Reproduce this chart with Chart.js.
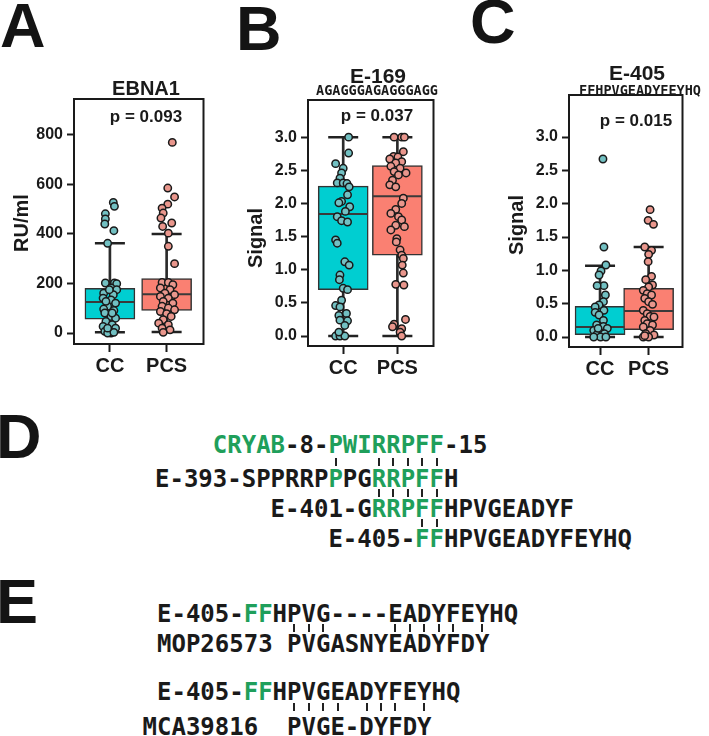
<!DOCTYPE html>
<html><head><meta charset="utf-8">
<script src="https://cdn.jsdelivr.net/npm/chart.js@4.4.1/dist/chart.umd.min.js"></script>
<style>
html,body{margin:0;padding:0;background:#fff;}
#root{position:relative;width:709px;height:736px;overflow:hidden;background:#fff;}
canvas{position:absolute;}
.letter{position:absolute;font-family:"Liberation Sans",Arial,sans-serif;font-weight:bold;font-size:63px;line-height:63px;color:#141414;}
.seq{position:absolute;font-family:"DejaVu Sans Mono",monospace;font-weight:bold;font-size:24px;line-height:24px;white-space:pre;color:#1a1a1a;}
.g{color:#1f9f5b;}
.tk{position:absolute;width:2px;height:8px;background:#222;}
</style></head><body><div id="root">
<canvas id="chartA" width="230" height="380" style="left:0px;top:0px"></canvas>
<canvas id="chartB" width="230" height="380" style="left:230px;top:0px"></canvas>
<canvas id="chartC" width="249" height="380" style="left:460px;top:0px"></canvas>
</div>
<script>
// ---------- data ----------
const groups = ['CC', 'PCS'];
const ebnaTicks = [0, 200, 400, 600, 800];
const ebnaTickLabels = ['0', '200', '400', '600', '800'];
const signalTicks = [0, 0.5, 1, 1.5, 2, 2.5, 3];
const signalTickLabels = ['0.0', '0.5', '1.0', '1.5', '2.0', '2.5', '3.0'];

// box statistics: [lower whisker, Q1, median, Q3, upper whisker]
const ebnaBoxCC  = [3, 56, 125, 180, 362];
const ebnaBoxPCS = [4, 91, 157, 220, 400];
const e169BoxCC  = [0, 0.70, 1.84, 2.26, 3.0];
const e169BoxPCS = [0, 1.22, 2.11, 2.57, 3.0];
const e405BoxCC  = [0, 0.035, 0.15, 0.46, 1.07];
const e405BoxPCS = [0, 0.11, 0.39, 0.73, 1.35];

// individual samples and their horizontal jitter (category units)
const ebnaCC = [527,511,481,460,440,413,362,202,202,199,182,175,161,155,141,134,121,108,97,91,81,67,60,47,34,27,20,7,0,0,3,175,128,81,20];
const ebnaCCJit = [.06,.08,-.08,-.08,-.09,.07,-.04,-.08,.08,.12,.02,.12,-.11,.06,-.12,.02,.10,-.04,-.11,.07,-.09,.02,.10,-.07,.04,-.12,.10,-.09,.02,-.04,.07,-.01,-.07,.04,-.04];
const ebnaPCS = [769,585,549,520,504,484,464,444,430,403,350,280,204,204,195,182,175,161,155,148,141,128,121,108,101,94,87,78,67,54,40,34,20,13,3];
const ebnaPCSJit = [.10,.02,.14,.02,-.08,-.06,-.10,.09,-.07,.03,.03,.14,-.08,.03,.11,-.11,.06,-.03,.14,-.11,.03,-.06,.11,-.08,.03,.14,-.11,0,.08,-.06,-.14,.03,-.08,.06,-.06];

const e169CC = [3.00,2.76,2.60,2.53,2.46,2.38,2.31,2.31,2.30,2.25,2.13,2.03,2.01,1.95,1.88,1.80,1.74,1.72,1.45,1.40,1.12,1.07,0.92,0.85,0.72,0.70,0.54,0.46,0.44,0.34,0.31,0.24,0.23,0.16,0,0,0,0.06];
const e169CCJit = [.10,.10,-.14,0,-.03,-.06,-.11,0,.07,.11,.08,-.03,-.08,.12,.04,-.11,-.03,.08,-.14,-.11,.03,.11,-.06,-.07,0,.08,-.03,-.14,-.06,.06,-.08,-.06,.08,.03,-.14,-.06,.03,-.08];
const e169PCS = [3.0,3.0,3.0,2.78,2.71,2.70,2.67,2.63,2.61,2.56,2.53,2.48,2.43,2.46,2.35,2.28,2.25,2.08,2.00,1.91,1.85,1.80,1.75,1.67,1.65,1.60,1.47,1.42,1.30,1.22,1.17,1.07,0.95,0.78,0.77,0.25,0.18,0.14,0.11,0.06,0];
const e169PCSJit = [-.06,.08,.13,.11,-.07,.01,-.14,.08,-.03,-.12,.05,-.06,.02,.16,-.09,-.14,-.03,.11,.08,-.03,-.12,.02,.08,-.03,.13,-.12,-.01,-.02,.05,.08,.11,.09,.11,-.03,.12,.15,-.06,-.09,.08,.05,.08];

const e405CC = [2.67,1.35,1.08,0.99,0.93,0.77,0.77,0.63,0.53,0.48,0.45,0.40,0.37,0.33,0.25,0.18,0.16,0.13,0.10,0.08,0.05,0.03,0,0,0,0.13];
const e405CCJit = [.06,.08,.12,.02,-.02,.08,-.06,.11,.07,-.02,-.10,.08,-.10,-.02,.07,-.07,.07,.15,-.13,-.02,.09,-.07,.01,-.13,.12,-.04];
const e405PCS = [1.91,1.75,1.69,1.35,1.30,1.24,1.13,0.91,0.86,0.78,0.75,0.70,0.65,0.63,0.58,0.53,0.49,0.40,0.35,0.31,0.30,0.25,0.20,0.18,0.15,0.10,0.05,0.03,0,0,0.02];
const e405PCSJit = [.03,-.01,.10,-.08,.06,0,-.01,.06,-.06,.08,0,-.11,-.03,.06,-.08,0,.08,-.11,-.03,.03,.11,-.08,-.03,.08,-.11,.03,-.06,.11,0,-.11,-.08];

// panel texts
const titleA = 'EBNA1', pA = 'p = 0.093', yTitleA = 'RU/ml';
const titleB = 'E-169', seqB = 'AGAGGGAGAGGGAGG', pB = 'p = 0.037', yTitleB = 'Signal';
const titleC = 'E-405', seqC = 'FFHPVGEADYFEYHQ', pC = 'p = 0.015', yTitleC = 'Signal';

// ---------- styles ----------
const SANS = '"Liberation Sans", Arial, sans-serif';
const MONO = '"DejaVu Sans Mono", monospace';
const INK = '#1a1a1a';
const boxFill = ['#00CED1', '#FA8072'];
const dotFill = ['#72C0C2', '#E9968C'];

const decor = {
  id: 'decor',
  afterDraw(chart, args, opts) {
    const {ctx, chartArea: a} = chart;
    ctx.save();
    ctx.strokeStyle = INK; ctx.lineWidth = 2;
    ctx.strokeRect(a.left, a.top, a.right - a.left, a.bottom - a.top);
    ctx.fillStyle = INK; ctx.textAlign = 'center'; ctx.textBaseline = 'alphabetic';
    for (const t of opts.texts) { ctx.font = t.font; ctx.fillText(t.text, t.x, t.y); }
    const yt = opts.yTitle;
    ctx.translate(yt.x, yt.y); ctx.rotate(-Math.PI / 2);
    ctx.textBaseline = 'middle'; ctx.font = `bold 20px ${SANS}`;
    ctx.fillText(yt.text, 0, 0);
    ctx.restore();
  }
};

function makeChart(id, cfg) {
  const stats = cfg.stats, pts = cfg.points, jit = cfg.jitter;
  const datasets = [];
  datasets.push({ type: 'bar', data: stats.map((s, i) => ({x: i + 1, y: [s[0], s[4]]})),
    backgroundColor: '#2b2b2b', borderWidth: 0, barThickness: 2, grouped: false, order: 5 });
  datasets.push({ type: 'bar', data: stats.map((s, i) => ({x: i + 1, y: [s[1], s[3]]})),
    backgroundColor: boxFill, borderColor: '#333', borderWidth: 1.5, borderSkipped: false,
    barThickness: 50, grouped: false, order: 4 });
  datasets.push({ type: 'scatter', data: stats.flatMap((s, i) => [{x: i + 1, y: s[0]}, {x: i + 1, y: s[4]}]),
    pointStyle: 'line', pointRadius: 15, pointBorderWidth: 2.5, pointBorderColor: '#222', order: 3 });
  datasets.push({ type: 'scatter', data: stats.map((s, i) => ({x: i + 1, y: s[2]})),
    pointStyle: 'line', pointRadius: 24.5, pointBorderWidth: 2, pointBorderColor: '#3a3a3a', order: 3 });
  pts.forEach((arr, g) => {
    datasets.push({ type: 'scatter', data: arr.map((v, k) => ({x: g + 1 + jit[g][k], y: v})),
      pointRadius: 3.7, pointBorderWidth: 1.5, pointBorderColor: '#1a1a1a',
      pointBackgroundColor: dotFill[g], order: 1 });
  });
  const tickFont = {family: SANS, size: 16, weight: 'bold'};
  return new Chart(document.getElementById(id), {
    type: 'scatter',
    data: { datasets },
    options: {
      responsive: false, animation: false, events: [],
      layout: { padding: cfg.pad },
      scales: {
        x: { type: 'linear', min: cfg.xr[0], max: cfg.xr[1], offset: false,
          afterBuildTicks: s => { s.ticks = groups.map((g, i) => ({value: i + 1})); },
          afterFit: s => { s.height = cfg.xH; },
          ticks: { callback: v => groups[Math.round(v) - 1], font: {family: SANS, size: 20, weight: 'bold'},
                   color: INK, padding: 2, autoSkip: false, maxRotation: 0 },
          grid: { offset: false, drawOnChartArea: false, drawTicks: true, tickLength: 8, tickWidth: 2, tickColor: INK },
          border: { display: false } },
        y: { type: 'linear', min: cfg.yr[0], max: cfg.yr[1],
          afterBuildTicks: s => { s.ticks = cfg.ticks.map(v => ({value: v})); },
          afterFit: s => { s.width = cfg.yW; },
          ticks: { callback: v => cfg.tickLabels[cfg.ticks.indexOf(v)], font: tickFont, color: INK,
                   padding: 4, autoSkip: false },
          grid: { drawOnChartArea: false, drawTicks: true, tickLength: 7, tickWidth: 2, tickColor: INK },
          border: { display: false },
          title: { display: false } }
      },
      plugins: { legend: {display: false}, tooltip: {enabled: false},
                 decor: { texts: cfg.texts, yTitle: cfg.yTitle } }
    },
    plugins: [decor]
  });
}

makeChart('chartA', {
  stats: [ebnaBoxCC, ebnaBoxPCS], points: [ebnaCC, ebnaPCS], jitter: [ebnaCCJit, ebnaPCSJit],
  pad: {left: 0, top: 99, right: 19, bottom: 0}, xH: 36, yW: 74,
  xr: [0.367, 2.65], yr: [-44, 944], ticks: ebnaTicks, tickLabels: ebnaTickLabels,
  yTitle: {text: yTitleA, x: 22, y: 223},
  texts: [ {text: titleA, x: 146, y: 95, font: `bold 20px ${SANS}`},
           {text: pA, x: 146, y: 122, font: `bold 17px ${SANS}`} ]
});
makeChart('chartB', {
  stats: [e169BoxCC, e169BoxPCS], points: [e169CC, e169PCS], jitter: [e169CCJit, e169PCSJit],
  pad: {left: 0, top: 100, right: 13, bottom: 0}, xH: 34, yW: 78,
  xr: [0.35, 2.667], yr: [-0.15, 3.56], ticks: signalTicks, tickLabels: signalTickLabels,
  yTitle: {text: yTitleB, x: 26, y: 238},
  texts: [ {text: titleB, x: 148, y: 83, font: `bold 21px ${SANS}`},
           {text: seqB, x: 147, y: 95, font: `bold 13.5px ${MONO}`},
           {text: pB, x: 147, y: 121, font: `bold 17px ${SANS}`} ]
});
makeChart('chartC', {
  stats: [e405BoxCC, e405BoxPCS], points: [e405CC, e405PCS], jitter: [e405CCJit, e405PCSJit],
  pad: {left: 0, top: 95, right: 1, bottom: 0}, xH: 33, yW: 109,
  xr: [0.361, 2.697], yr: [-0.15, 3.63], ticks: signalTicks, tickLabels: signalTickLabels,
  yTitle: {text: yTitleC, x: 57, y: 225},
  texts: [ {text: titleC, x: 177, y: 80, font: `bold 21px ${SANS}`},
           {text: seqC, x: 180, y: 95, font: `bold 13.5px ${MONO}`},
           {text: pC, x: 176, y: 126, font: `bold 17px ${SANS}`} ]
});

// ---------- panel letters ----------
const root = document.getElementById('root');
const letters = [['A', 0, 47], ['B', 236, 50], ['C', 470, 43], ['D', -4, 458], ['E', -4, 623]];
for (const [t, x, base] of letters) {
  const d = document.createElement('div');
  d.className = 'letter'; d.textContent = t;
  d.style.left = x + 'px'; d.style.top = (base - 0.8465 * 63) + 'px';
  root.appendChild(d);
}

// ---------- sequence alignments (D, E) ----------
const G = 'g', K = 'k';
const alignD = [
  { start: 4, segs: [['CRYAB', G], ['-8-', K], ['PWIRRPFF', G], ['-15', K]] },
  { start: 0, segs: [['E-393-SPPRRP', K], ['P', G], ['PG', K], ['RRPFF', G], ['H', K]] },
  { start: 8, segs: [['E-401-G', K], ['RRPFF', G], ['HPVGEADYF', K]] },
  { start: 12, segs: [['E-405-', K], ['FF', G], ['HPVGEADYFEYHQ', K]] }
];
const alignDMarks = [[12, 15, 16, 17, 18, 19], [15, 16, 17, 18, 19], [18, 19]];
const alignE1 = [
  { start: 0, segs: [['E-405-', K], ['FF', G], ['HPVG----EADYFEYHQ', K]] },
  { start: 0, segs: [['MOP26573 PVGASNYEADYFDY', K]] }
];
const alignE1Marks = [[9, 10, 11, 16, 17, 18, 19, 20, 22]];
const alignE2 = [
  { start: 0, segs: [['E-405-', K], ['FF', G], ['HPVGEADYFEYHQ', K]] },
  { start: -1, segs: [['MCA39816  PVGE-DYFDY', K]] }
];
const alignE2Marks = [[9, 10, 11, 12, 14, 15, 16, 18]];

const mctx = document.createElement('canvas').getContext('2d');
mctx.font = `bold 24px ${MONO}`;
const pitch = mctx.measureText('MMMMMMMMMM').width / 10;

function drawAlign(rows, marks, x0, baselines, markTops) {
  rows.forEach((r, i) => {
    const d = document.createElement('div');
    d.className = 'seq';
    d.style.left = (x0 + r.start * pitch) + 'px';
    d.style.top = (baselines[i] - 0.846 * 24) + 'px';
    for (const [txt, c] of r.segs) {
      const s = document.createElement('span');
      if (c === G) s.className = 'g';
      s.textContent = txt; d.appendChild(s);
    }
    root.appendChild(d);
  });
  marks.forEach((m, i) => {
    for (const idx of m) {
      const t = document.createElement('div');
      t.className = 'tk';
      t.style.left = (x0 + (idx + 0.5) * pitch - 1) + 'px';
      t.style.top = markTops[i] + 'px';
      root.appendChild(t);
    }
  });
}
drawAlign(alignD, alignDMarks, 155, [453, 487, 517, 547], [458, 489, 519]);
drawAlign(alignE1, alignE1Marks, 157, [622, 652], [624]);
drawAlign(alignE2, alignE2Marks, 157, [700, 735], [703]);
</script></body></html>
